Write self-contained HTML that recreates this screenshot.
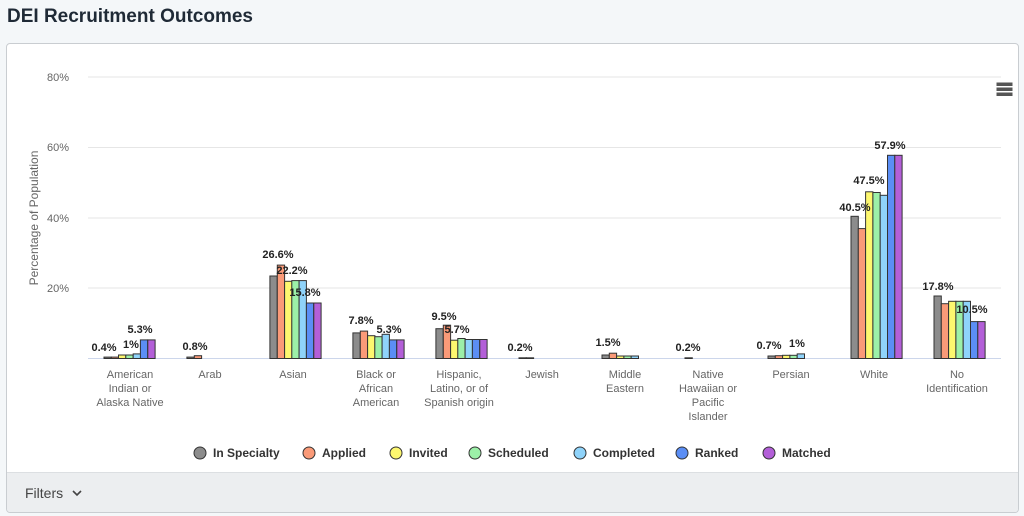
<!DOCTYPE html>
<html><head><style>
body{margin:0;width:1024px;height:516px;background:#f4f7f9;font-family:"Liberation Sans",sans-serif;overflow:hidden;position:relative}
.t{position:absolute;left:7px;top:6px;font-size:19px;font-weight:bold;color:#1f2a36}
.card{position:absolute;left:6px;top:43px;width:1011px;height:468px;border:1px solid #c9cdd1;border-radius:4px;background:#fff;overflow:hidden}
.f{position:absolute;left:0;bottom:0;width:100%;height:39px;background:#eceef0;border-top:1px solid #dcdfe2;font-size:14px;color:#444}
</style></head><body>
<div class="t">DEI Recruitment Outcomes</div>
<div class="card"><div class="f"><span style="position:absolute;left:18px;top:12px">Filters</span><svg style="position:absolute;left:65px;top:17px" width="10" height="7"><path d="M1 1L5 5L9 1" stroke="#444" stroke-width="1.6" fill="none"/></svg></div></div>
<svg style="position:absolute;left:0;top:0" width="1024" height="516" font-family="Liberation Sans, sans-serif">
<g stroke="#e6e6e6"><line x1="88" x2="1001" y1="77" y2="77"/><line x1="88" x2="1001" y1="147.5" y2="147.5"/><line x1="88" x2="1001" y1="218" y2="218"/><line x1="88" x2="1001" y1="288" y2="288"/></g>
<line x1="88" x2="1001" y1="358.5" y2="358.5" stroke="#ccd6eb"/>
<g font-size="11" fill="#666" text-anchor="end"><text x="69" y="81">80%</text><text x="69" y="151">60%</text><text x="69" y="222">40%</text><text x="69" y="292">20%</text></g>
<text transform="translate(38,218) rotate(-90)" font-size="12" fill="#666" text-anchor="middle">Percentage of Population</text>
<g fill="#555" stroke="#555"><rect x="997" y="83" width="15" height="2.5"/><rect x="997" y="88" width="15" height="2.5"/><rect x="997" y="93" width="15" height="2.5"/></g>
<g id="bars" stroke="#333" stroke-width="1"></g>
<g font-size="11" fill="#666" text-anchor="middle">
<text x="130" y="378">American</text><text x="130" y="392">Indian or</text><text x="130" y="406">Alaska Native</text>
<text x="210" y="378">Arab</text>
<text x="293" y="378">Asian</text>
<text x="376" y="378">Black or</text><text x="376" y="392">African</text><text x="376" y="406">American</text>
<text x="459" y="378">Hispanic,</text><text x="459" y="392">Latino, or of</text><text x="459" y="406">Spanish origin</text>
<text x="542" y="378">Jewish</text>
<text x="625" y="378">Middle</text><text x="625" y="392">Eastern</text>
<text x="708" y="378">Native</text><text x="708" y="392">Hawaiian or</text><text x="708" y="406">Pacific</text><text x="708" y="420">Islander</text>
<text x="791" y="378">Persian</text>
<text x="874" y="378">White</text>
<text x="957" y="378">No</text><text x="957" y="392">Identification</text>
</g>
<g font-size="11" font-weight="bold" fill="#222" text-anchor="middle">
<text x="104" y="351">0.4%</text><text x="131" y="348">1%</text><text x="140" y="333">5.3%</text>
<text x="195" y="350">0.8%</text>
<text x="278" y="258">26.6%</text><text x="292" y="274">22.2%</text><text x="305" y="296">15.8%</text>
<text x="361" y="324">7.8%</text><text x="389" y="333">5.3%</text>
<text x="444" y="320">9.5%</text><text x="457" y="333">5.7%</text>
<text x="520" y="351">0.2%</text>
<text x="608" y="346">1.5%</text>
<text x="688" y="351">0.2%</text>
<text x="769" y="349">0.7%</text><text x="797" y="347">1%</text>
<text x="855" y="211">40.5%</text><text x="869" y="184">47.5%</text><text x="890" y="149">57.9%</text>
<text x="938" y="290">17.8%</text><text x="972" y="313">10.5%</text>
</g>
<g font-size="12" font-weight="bold" fill="#333" stroke="#333">
<circle cx="200" cy="453" r="6" fill="#8c8c8c"/><text x="213" y="457" stroke="none">In Specialty</text>
<circle cx="309" cy="453" r="6" fill="#fa9a78"/><text x="322" y="457" stroke="none">Applied</text>
<circle cx="396" cy="453" r="6" fill="#fdf76f"/><text x="409" y="457" stroke="none">Invited</text>
<circle cx="475" cy="453" r="6" fill="#9cf0a8"/><text x="488" y="457" stroke="none">Scheduled</text>
<circle cx="580" cy="453" r="6" fill="#8fd3fa"/><text x="593" y="457" stroke="none">Completed</text>
<circle cx="682" cy="453" r="6" fill="#5b8ef5"/><text x="695" y="457" stroke="none">Ranked</text>
<circle cx="769" cy="453" r="6" fill="#b35fd8"/><text x="782" y="457" stroke="none">Matched</text>
</g>
</svg>
<script>
var d=[[.4,.4,1,1,1.3,5.3,5.3],[.4,.8,0,0,0,0,0],[23.5,26.6,22,22.2,22.2,15.8,15.8],[7.3,7.8,6.5,6.2,6.9,5.3,5.3],[8.5,9.5,5.2,5.7,5.4,5.4,5.4],[.2,.2,0,0,0,0,0],[1,1.5,.7,.7,.7,0,0],[.2,0,0,0,0,0,0],[.7,.8,.9,.9,1.3,0,0],[40.5,37,47.5,47.3,46.5,57.9,57.9],[17.8,15.6,16.3,16.3,16.3,10.5,10.5]];
var c=["#8c8c8c","#fa9a78","#fdf76f","#9cf0a8","#8fd3fa","#5b8ef5","#b35fd8"];
var s="",w=7.3;
d.forEach(function(g,i){var cx=88+41.5+i*83;g.forEach(function(v,j){if(v<=0)return;var h=v*3.51;var x=cx-3.5*w+j*w;s+='<rect x="'+x.toFixed(1)+'" y="'+(358.5-h).toFixed(1)+'" width="'+w+'" height="'+h.toFixed(1)+'" fill="'+c[j]+'"/>';});});
document.getElementById("bars").innerHTML=s;
</script>
</body></html>
